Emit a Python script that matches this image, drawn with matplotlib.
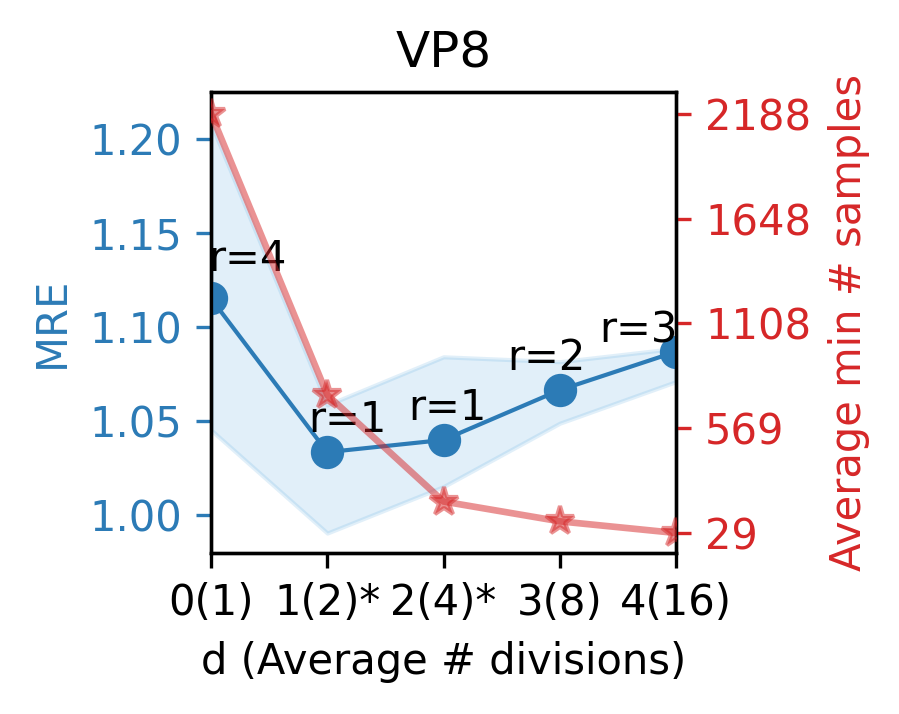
import numpy as np
import matplotlib
matplotlib.use("Agg")
import matplotlib.pyplot as plt

# datos
d_labels = ["0(1)", "1(2)*", "2(4)*", "3(8)", "4(16)"]
mre = [1.115, 1.0333, 1.0398, 1.0663, 1.0867]
mre_upper = [1.208, 1.0584, 1.084, 1.0814, 1.0885]
mre_lower = [1.0451, 0.9903, 1.015, 1.0487, 1.0708]
r_labels = ["r=4", "r=1", "r=1", "r=2", "r=3"]
min_samples = [2188, 740, 191, 89, 29]
sample_ticks = [29, 569, 1108, 1648, 2188]

blue = '#2c7bb6'
fill_blue = '#3a9ad9'
red = '#d62728'

x = np.arange(len(d_labels))

fig = plt.figure(figsize=(899 / 300, 714 / 300), dpi=300)
ax = fig.add_axes([0.2347, 0.2255, 0.5173, 0.6455])

ax.fill_between(x, mre_lower, mre_upper, color=fill_blue, alpha=0.15)
ax.plot(x, mre, color=blue, marker='o', markersize=7, linewidth=1.0,
        clip_on=True, zorder=3)

# desplazamientos de las etiquetas r (en puntos)
offsets = [(8.8, 6.7), (4.8, 4.8), (1.0, 4.8), (-3.1, 4.8), (-9.1, 2.2)]
for i in range(len(x)):
    ax.annotate(r_labels[i], (x[i], mre[i]), xytext=offsets[i],
                textcoords='offset points', ha='center', va='baseline',
                fontsize=10, color='black', zorder=5)

ax.set_xlim(0, 4)
ax.set_ylim(0.9797, 1.2247)
ax.set_yticks([1.00, 1.05, 1.10, 1.15, 1.20])
ax.set_xticks(x)
ax.set_xticklabels(d_labels, fontsize=10)
ax.tick_params(axis='y', colors=blue, labelsize=10)
ax.tick_params(axis='x', labelsize=10)
ax.set_ylabel("MRE", color=blue, fontsize=10)
ax.set_xlabel("d (Average # divisions)", fontsize=10)
ax.set_title("VP8", fontsize=12)

ax2 = ax.twinx()
ax2.plot(x, min_samples, color=red, alpha=0.5, marker='*', markersize=7,
         linewidth=1.6, zorder=4)
ax2.set_ylim(-74, 2299)
ax2.set_yticks(sample_ticks)
ax2.set_yticklabels([str(v) for v in sample_ticks])
ax2.tick_params(axis='y', colors=red, labelsize=10)
ax2.set_ylabel("Average min # samples", color=red, fontsize=10)
ax2.set_xlim(0, 4)

fig.savefig("out.png", dpi=300)
